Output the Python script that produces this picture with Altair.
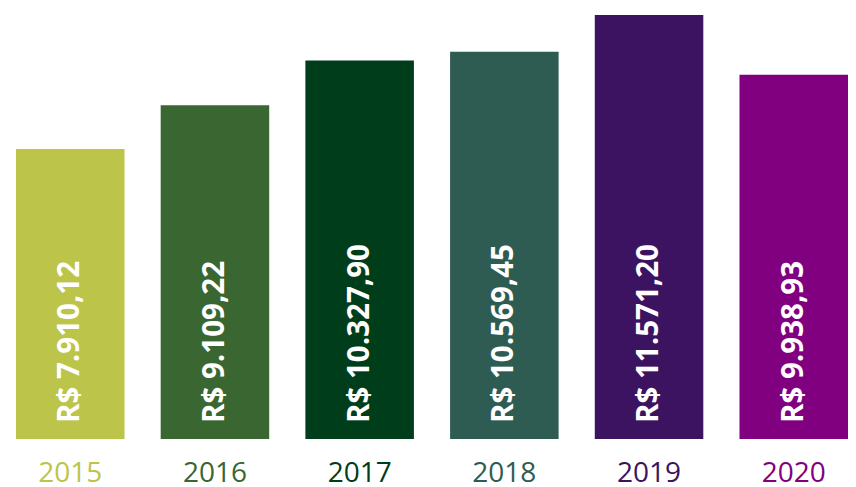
import altair as alt
import pandas as pd

years = ["2015", "2016", "2017", "2018", "2019", "2020"]
values = [7910.12, 9109.22, 10327.90, 10569.45, 11571.20, 9938.93]
labels = ["R$ 7.910,12", "R$ 9.109,22", "R$ 10.327,90", "R$ 10.569,45", "R$ 11.571,20", "R$ 9.938,93"]
colors = ["#bcc54a", "#3a6731", "#003d1a", "#2e5c53", "#3c1361", "#800080"]

df = pd.DataFrame({"year": years, "value": values, "label": labels})

label_color = {
    "condition": [
        {"test": f"datum.value == '{y}'", "value": c} for y, c in zip(years, colors)
    ],
    "value": "#333333",
}

x = alt.X(
    "year:N",
    sort=years,
    scale=alt.Scale(paddingInner=0.25, paddingOuter=0.0276, align=1),
    axis=alt.Axis(
        title=None, labelAngle=0, ticks=False, domain=False,
        labelFont="Open Sans", labelFontSize=28, labelPadding=20,
        labelColor=label_color,
    ),
)

bars = alt.Chart(df).mark_bar().encode(
    x=x,
    y=alt.Y("value:Q", scale=alt.Scale(domain=[0, 11760], nice=False), axis=None),
    color=alt.Color("year:N", scale=alt.Scale(domain=years, range=colors), legend=None),
)

text = alt.Chart(df).mark_text(
    angle=270, align="left", baseline="middle", dx=16,
    font="Open Sans", fontWeight="bold", fontSize=29.5, color="white",
).encode(
    x=alt.X("year:N", sort=years),
    y=alt.datum(0),
    text="label:N",
)

chart = alt.layer(bars, text).properties(
    width=840, height=431, padding=0
).configure_view(stroke=None)

chart.save("out.html", embed_options={"renderer": "svg", "actions": False})
